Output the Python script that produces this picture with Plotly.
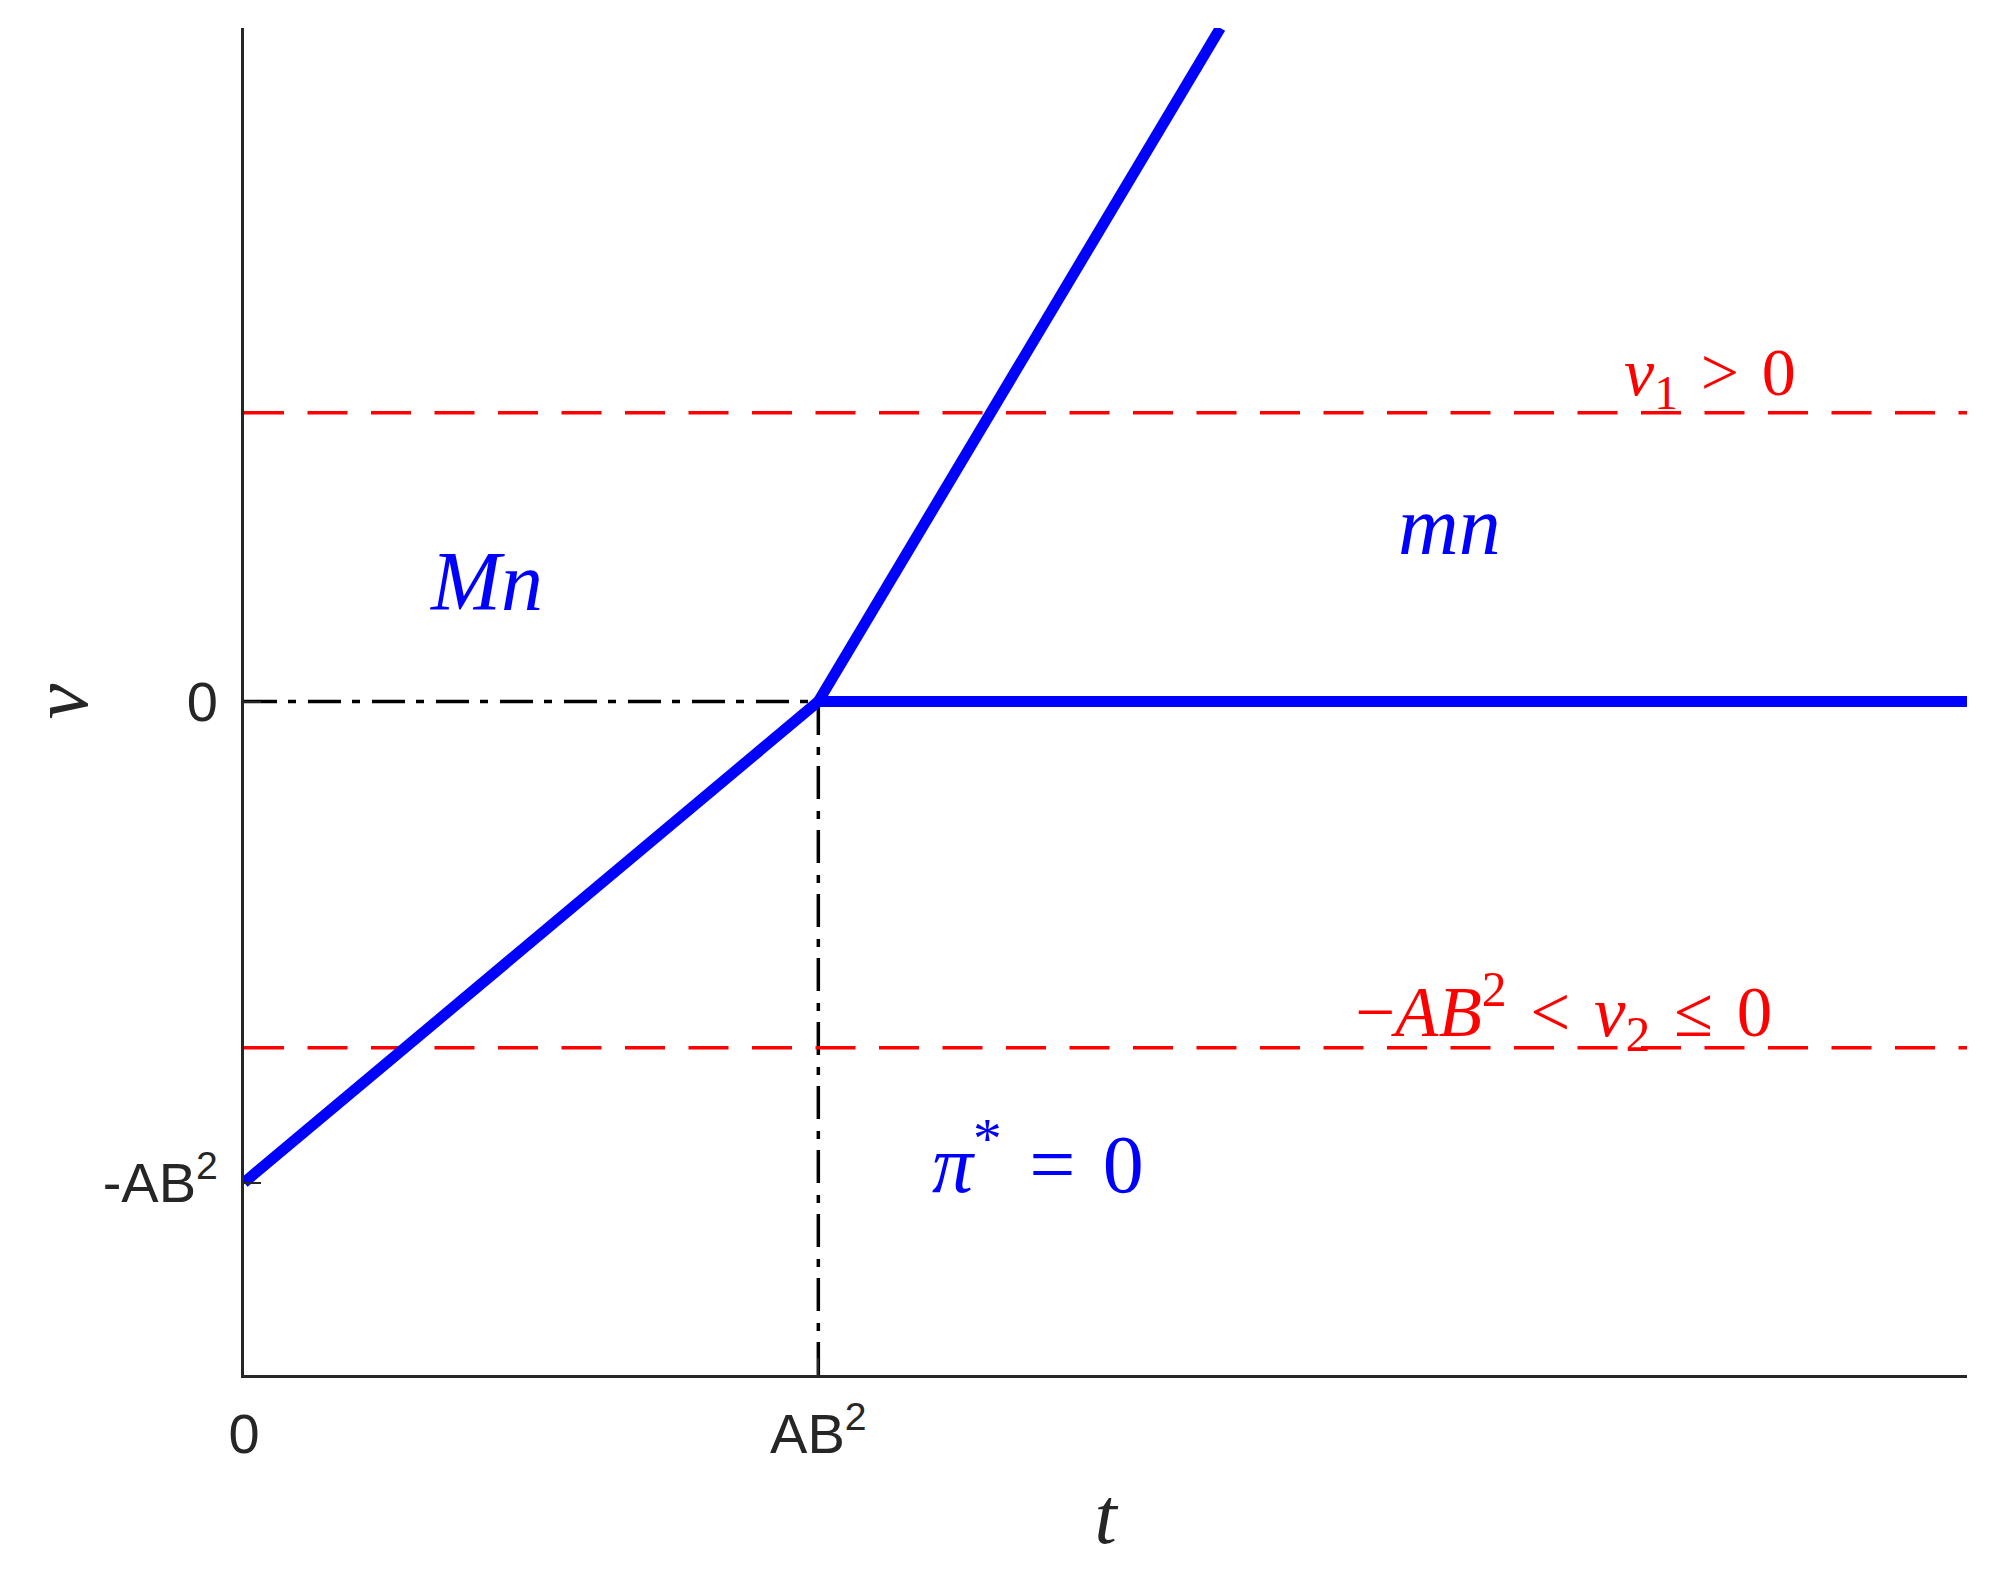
"""
Optimal policy regions in the (t, v) plane.
"""
import plotly.graph_objects as go

# Values (AB^2 taken as one unit)
AB2 = 1.0
t_max = 3.0
v_lim = 1.4

# Boundary pieces of the blue curve
rise_t = [0.0, AB2]
rise_v = [-AB2, 0.0]
steep_t = [AB2, 1.7]
steep_v = [0.0, 1.4]
flat_t = [AB2, t_max]
flat_v = [0.0, 0.0]

# Red reference levels
v1_level = 0.6
v2_level = -0.72

x_tickvals = [0.0, AB2]
x_ticktext = ["0", "AB<sup>2</sup>"]
y_tickvals = [-AB2, 0.0]
y_ticktext = ["-AB<sup>2</sup>", "0"]

BLUE = "#0000FF"
RED = "#FF0000"
AXIS = "#262626"
MATH = "Liberation Serif"
SANS = "Liberation Sans"
SP = "\u2004"  # a little wider than a normal space, like TeX relation spacing

fig = go.Figure()

# Dash-dot guides through the corner (AB^2, 0)
fig.add_trace(go.Scatter(x=[0.0, AB2], y=[0.0, 0.0], mode="lines",
                         line=dict(color="black", width=3.5, dash="33px,11px,8px,12px")))
fig.add_trace(go.Scatter(x=[AB2, AB2], y=[-v_lim, 0.0], mode="lines",
                         line=dict(color="black", width=3.5, dash="33px,11px,8px,12px")))

# Red dashed levels
for level in (v1_level, v2_level):
    fig.add_trace(go.Scatter(x=[0.0, t_max], y=[level, level], mode="lines",
                             line=dict(color=RED, width=3.5, dash="40px,23.5px")))

# Blue boundary
for xs, ys in ((rise_t, rise_v), (steep_t, steep_v), (flat_t, flat_v)):
    fig.add_trace(go.Scatter(x=xs, y=ys, mode="lines",
                             line=dict(color=BLUE, width=11)))

labels = [
    ("<i>Mn</i>", 0.422, 0.25, BLUE, 84),
    ("<i>mn</i>", 2.099, 0.365, BLUE, 84),
    (f"<i>π</i><sup>*</sup>{SP}={SP}0", 1.383, -0.95, BLUE, 82),
    (f"<i>v</i><sub>1</sub>{SP}&gt;{SP}0", 2.552, 0.675, RED, 68),
    (f"−<i>AB</i><sup>2</sup>{SP}&lt;{SP}<i>v</i><sub>2</sub>{SP}≤{SP}0", 2.298, -0.645, RED, 71),
]
for text, x, y, color, size in labels:
    fig.add_annotation(x=x, y=y, text=text, showarrow=False,
                       font=dict(family=MATH, size=size, color=color))

# y-axis label, rotated like a normal axis title
fig.add_annotation(xref="paper", yref="y", x=-0.107, y=0.0, text="<i>v</i>",
                   textangle=-90, showarrow=False, xanchor="center",
                   font=dict(family=MATH, size=80, color=AXIS))

fig.update_xaxes(range=[0, t_max], showgrid=False, zeroline=False,
                 showline=True, linecolor=AXIS, linewidth=3,
                 ticks="inside", ticklen=17, tickwidth=2, tickcolor=AXIS,
                 tickvals=x_tickvals, ticktext=x_ticktext,
                 tickfont=dict(family=SANS, size=56, color=AXIS),
                 ticklabelstandoff=8,
                 title=dict(text="<i>t</i>", font=dict(family=MATH, size=80, color=AXIS),
                            standoff=23))
fig.update_yaxes(range=[-v_lim, v_lim], showgrid=False, zeroline=False,
                 showline=True, linecolor=AXIS, linewidth=3,
                 ticks="inside", ticklen=17, tickwidth=2, tickcolor=AXIS,
                 tickvals=y_tickvals, ticktext=y_ticktext,
                 tickfont=dict(family=SANS, size=56, color=AXIS),
                 ticklabelstandoff=12)

# the page body adds an 8 px offset, so the margins are shifted to match
fig.update_layout(width=2003, height=1569, showlegend=False,
                  plot_bgcolor="white", paper_bgcolor="white",
                  margin=dict(l=236, r=44, t=20, b=202, autoexpand=False))

fig.write_html("out.html", config={"displayModeBar": False})
